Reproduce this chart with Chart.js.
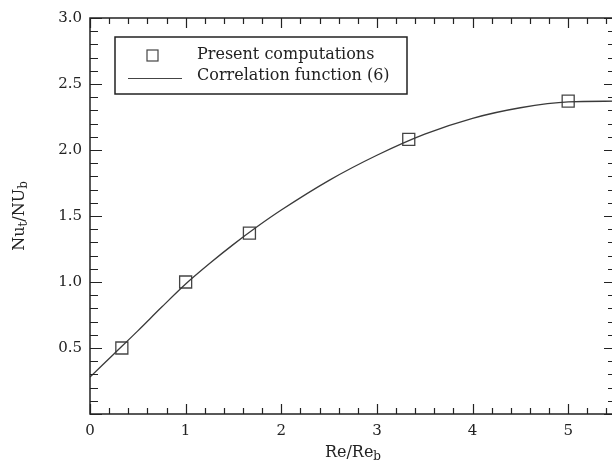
<!DOCTYPE html>
<html>
<head>
<meta charset="utf-8">
<script src="https://cdn.jsdelivr.net/npm/chart.js@4"></script>
<style>
  html, body { margin: 0; padding: 0; background: #fff; overflow: hidden; }
  #wrap { width: 618px; height: 466px; }
</style>
</head>
<body>
<div id="wrap"><canvas id="nu-chart" width="618" height="466"></canvas></div>
<script>
// measured points (squares)
const pointRe = [0.333, 1.0, 1.667, 3.333, 5.0];
const pointNu = [0.50, 1.00, 1.37, 2.08, 2.37];

// correlation function (6)
const curveRe = [0, 0.25, 0.5, 0.75, 1.0, 1.25, 1.5, 1.75, 2.0, 2.5, 3.0, 3.5, 4.0, 4.5, 5.0, 5.5];
const curveNu = [0.28, 0.455, 0.63, 0.81, 0.985, 1.14, 1.285, 1.42, 1.545, 1.77, 1.96, 2.12, 2.24, 2.32, 2.365, 2.37];

const xTickValues = [0, 1, 2, 3, 4, 5];
const yTickValues = [0.5, 1.0, 1.5, 2.0, 2.5, 3.0];

const legendLabels = ['Present computations', 'Correlation function (6)'];

const SERIF = '"DejaVu Serif", "Liberation Serif", serif';
const INK = '#222';

function toXY(xs, ys) {
    const out = [];
    for (let i = 0; i < xs.length; i++) {
        out.push({x: xs[i], y: ys[i]});
    }
    return out;
}

function drawSubText(ctx, parts, x, y, size) {
    // parts: [[text, isSub], ...], drawn left to right starting at x
    let cx = x;
    parts.forEach(([txt, sub]) => {
        ctx.font = (sub ? Math.round(size * 0.72) : size) + 'px ' + SERIF;
        ctx.fillText(txt, cx, sub ? y + size * 0.25 : y);
        cx += ctx.measureText(txt).width;
    });
}

function measureSubText(ctx, parts, size) {
    let w = 0;
    parts.forEach(([txt, sub]) => {
        ctx.font = (sub ? Math.round(size * 0.72) : size) + 'px ' + SERIF;
        w += ctx.measureText(txt).width;
    });
    return w;
}

const framePlugin = {
    id: 'frameTicks',
    afterDraw(chart) {
        const ctx = chart.ctx;
        const xs = chart.scales.x;
        const ys = chart.scales.y;
        const a = chart.chartArea;

        ctx.save();
        ctx.strokeStyle = INK;
        ctx.lineWidth = 1.5;
        ctx.strokeRect(a.left, a.top, a.right - a.left, a.bottom - a.top);

        ctx.lineWidth = 1.2;
        ctx.beginPath();
        // x ticks every 0.2, major every 1
        for (let i = 0; i <= 27; i++) {
            const px = Math.round(xs.getPixelForValue(i * 0.2)) + 0.5;
            const len = i % 5 === 0 ? 10 : 6;
            ctx.moveTo(px, a.bottom);
            ctx.lineTo(px, a.bottom - len);
            ctx.moveTo(px, a.top);
            ctx.lineTo(px, a.top + len);
        }
        // y ticks every 0.1, major every 0.5
        for (let i = 0; i <= 30; i++) {
            const py = Math.round(ys.getPixelForValue(i * 0.1)) + 0.5;
            const len = i % 5 === 0 ? 12 : 8;
            ctx.moveTo(a.left, py);
            ctx.lineTo(a.left + len, py);
            ctx.moveTo(a.right, py);
            ctx.lineTo(a.right - len, py);
        }
        ctx.stroke();

        // legend box
        const lx = a.left + 25, ly = a.top + 19, lw = 292, lh = 57;
        ctx.lineWidth = 1.5;
        ctx.strokeRect(lx, ly, lw, lh);
        ctx.lineWidth = 1.2;
        ctx.strokeStyle = '#444';
        ctx.strokeRect(lx + 32, ly + 13, 11, 11);
        ctx.beginPath();
        ctx.moveTo(lx + 13, ly + 41.5);
        ctx.lineTo(lx + 67, ly + 41.5);
        ctx.stroke();
        ctx.fillStyle = INK;
        ctx.font = '16px ' + SERIF;
        ctx.textAlign = 'left';
        ctx.textBaseline = 'middle';
        ctx.fillText(legendLabels[0], lx + 82, ly + 18);
        ctx.fillText(legendLabels[1], lx + 82, ly + 39);

        // x title: Re/Re_b
        const xParts = [['Re/Re', false], ['b', true]];
        const xw = measureSubText(ctx, xParts, 16);
        drawSubText(ctx, xParts, (a.left + a.right) / 2 - xw / 2, 453, 16);

        // y title: Nu_t/NU_b (rotated)
        const yParts = [['Nu', false], ['t', true], ['/NU', false], ['b', true]];
        const yw = measureSubText(ctx, yParts, 16);
        ctx.translate(20, (a.top + a.bottom) / 2);
        ctx.rotate(-Math.PI / 2);
        drawSubText(ctx, yParts, -yw / 2, 0, 16);
        ctx.restore();
    }
};

const ctx = document.getElementById('nu-chart').getContext('2d');

new Chart(ctx, {
    type: 'line',
    data: {
        datasets: [
            {
                label: legendLabels[1],
                data: toXY(curveRe, curveNu),
                borderColor: '#3a3a3a',
                borderWidth: 1.3,
                pointRadius: 0,
                cubicInterpolationMode: 'monotone',
                fill: false
            },
            {
                label: legendLabels[0],
                data: toXY(pointRe, pointNu),
                showLine: false,
                pointStyle: 'rect',
                pointRadius: 8.5,
                pointBorderWidth: 1.3,
                pointBorderColor: '#444',
                pointBackgroundColor: 'rgba(0,0,0,0)'
            }
        ]
    },
    options: {
        responsive: false,
        animation: false,
        events: [],
        layout: {autoPadding: false, padding: {top: 18, right: 2, left: 0, bottom: 0}},
        plugins: {
            legend: {display: false},
            tooltip: {enabled: false}
        },
        scales: {
            x: {
                type: 'linear',
                min: 0,
                max: 5.5,
                afterBuildTicks: (s) => { s.ticks = xTickValues.map(v => ({value: v})); },
                afterFit: (s) => { s.height = 52; },
                grid: {display: false, drawTicks: false},
                border: {display: false},
                ticks: {
                    color: INK,
                    padding: 8,
                    maxRotation: 0,
                    font: {family: SERIF, size: 15},
                    callback: (v) => String(v)
                }
            },
            y: {
                type: 'linear',
                min: 0,
                max: 3,
                afterBuildTicks: (s) => { s.ticks = yTickValues.map(v => ({value: v})); },
                afterFit: (s) => { s.width = 90; },
                grid: {display: false, drawTicks: false},
                border: {display: false},
                ticks: {
                    color: INK,
                    padding: 8,
                    font: {family: SERIF, size: 15},
                    callback: (v) => Number(v).toFixed(1)
                }
            }
        }
    },
    plugins: [framePlugin]
});
</script>
</body>
</html>
